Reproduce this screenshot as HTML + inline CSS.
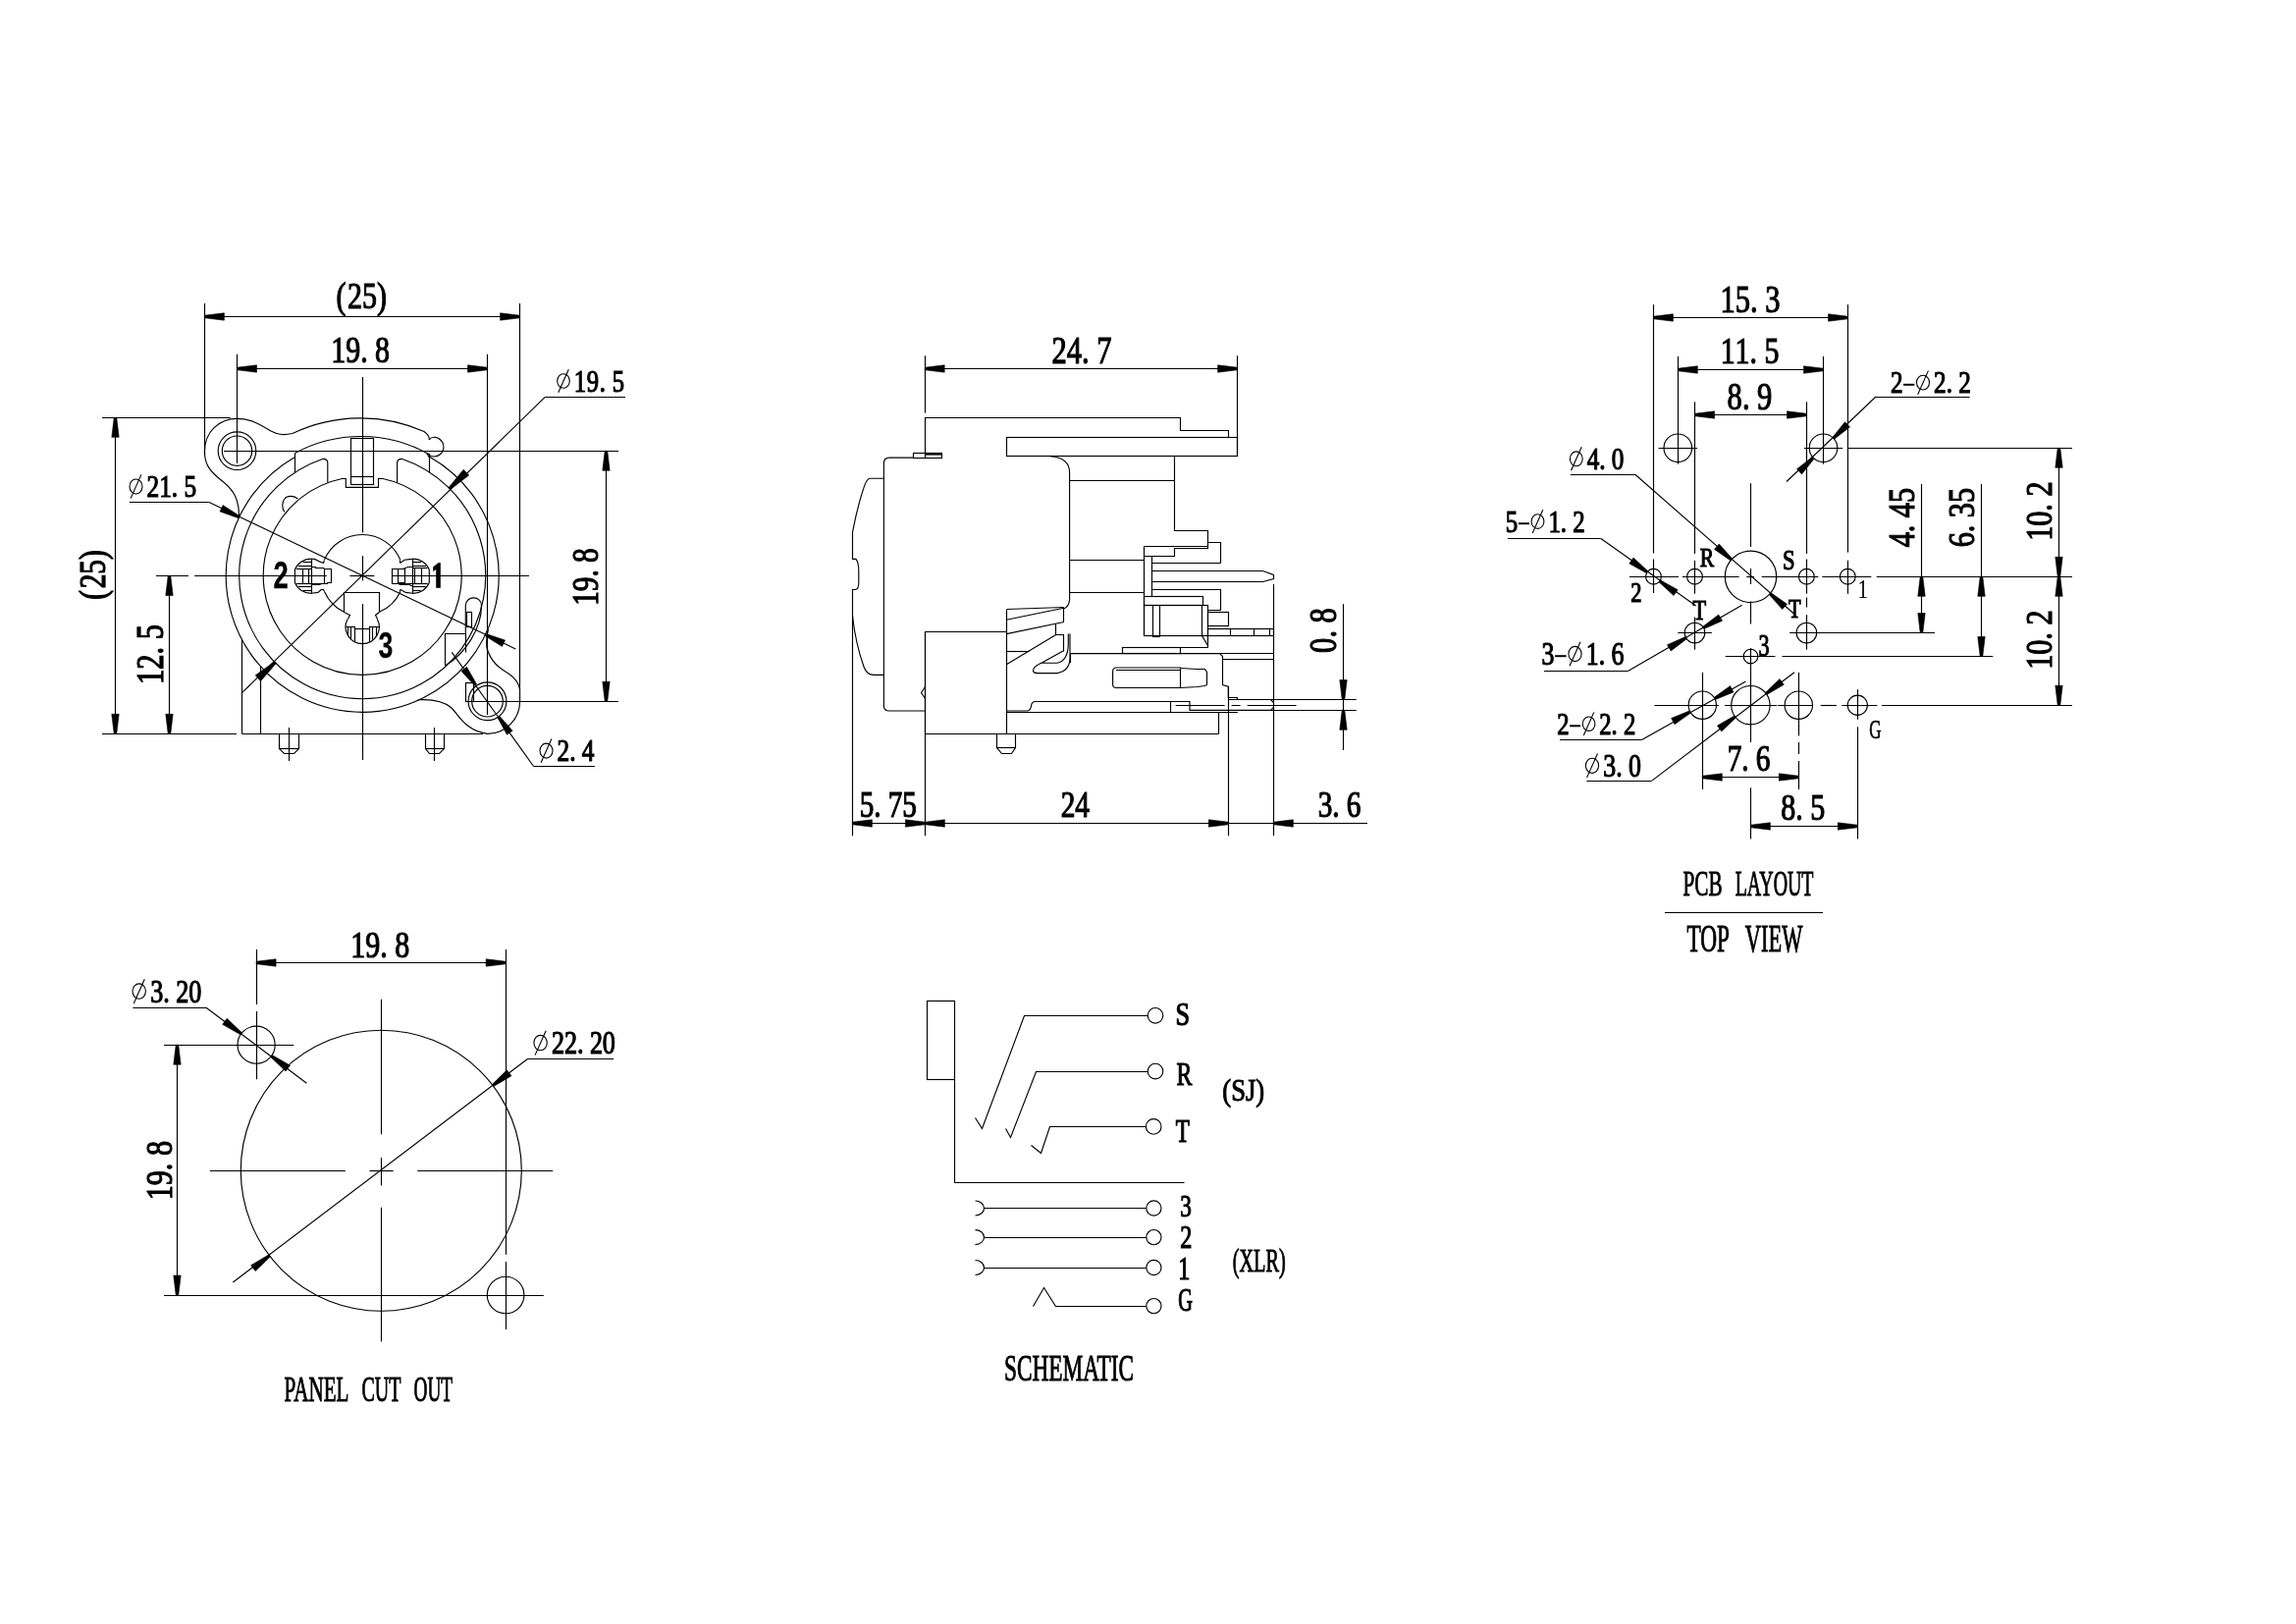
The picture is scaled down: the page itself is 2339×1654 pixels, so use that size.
<!DOCTYPE html>
<html><head><meta charset="utf-8">
<title>XLR combo jack drawing</title>
<style>
html,body{margin:0;padding:0;background:#fff;}
svg{display:block;will-change:transform;}
svg *{fill:none;stroke:#000;stroke-width:1.15;}
svg .f{fill:#000;stroke:#000;stroke-width:0.6;}
svg text{stroke:#000;fill:#000;}
.ts{font-family:"Liberation Serif",serif;}
.tb{font-family:"Liberation Sans",sans-serif;font-weight:bold;}
</style></head><body>
<svg width="2339" height="1654" viewBox="0 0 2339 1654">
<line x1="208.5" y1="309" x2="208.5" y2="463.7"/>
<line x1="529.5" y1="309" x2="529.5" y2="702"/>
<line x1="208.4" y1="322.5" x2="529.6" y2="322.5"/>
<polygon class="f" points="208.4,321.2 228.4,318.8 228.4,326.2 208.4,323.8"/>
<polygon class="f" points="529.6,323.8 509.6,326.2 509.6,318.8 529.6,321.2"/>
<g transform="translate(343.1,314)"><text class="ts" text-anchor="middle" transform="translate(4.3,0) scale(0.78,1)" font-size="38.3" style="stroke-width:1.2">(</text><text class="ts" text-anchor="middle" transform="translate(18.4,0) scale(0.78,1)" font-size="38.3" style="stroke-width:1.2">2</text><text class="ts" text-anchor="middle" transform="translate(33.3,0) scale(0.78,1)" font-size="38.3" style="stroke-width:1.2">5</text><text class="ts" text-anchor="middle" transform="translate(45.9,0) scale(0.78,1)" font-size="38.3" style="stroke-width:1.2">)</text></g>
<line x1="241.5" y1="360.8" x2="241.5" y2="472"/>
<line x1="496.5" y1="360.8" x2="496.5" y2="728"/>
<line x1="241.5" y1="375.5" x2="496.5" y2="375.5"/>
<polygon class="f" points="241.5,374.2 261.5,371.8 261.5,379.2 241.5,376.8"/>
<polygon class="f" points="496.5,376.8 476.5,379.2 476.5,371.8 496.5,374.2"/>
<g transform="translate(338.6,368.5)"><text class="ts" text-anchor="middle" transform="translate(6.1,0) scale(0.78,1)" font-size="38.3" style="stroke-width:1.2">1</text><text class="ts" text-anchor="middle" transform="translate(21,0) scale(0.78,1)" font-size="38.3" style="stroke-width:1.2">9</text><text class="ts" text-anchor="middle" transform="translate(32.3,0) scale(0.78,1)" font-size="38.3" style="stroke-width:1.2">.</text><text class="ts" text-anchor="middle" transform="translate(50.9,0) scale(0.78,1)" font-size="38.3" style="stroke-width:1.2">8</text></g>
<line x1="369.5" y1="384" x2="369.5" y2="542.5"/>
<line x1="369.5" y1="566" x2="369.5" y2="591.4"/>
<line x1="369.5" y1="615" x2="369.5" y2="774"/>
<line x1="104" y1="425.5" x2="234.7" y2="425.5"/>
<line x1="104" y1="747.5" x2="241" y2="747.5"/>
<line x1="117.5" y1="425.3" x2="117.5" y2="747.3"/>
<polygon class="f" points="118.8,425.3 121.2,445.3 113.8,445.3 116.2,425.3"/>
<polygon class="f" points="116.2,747.3 113.8,727.3 121.2,727.3 118.8,747.3"/>
<g transform="translate(107.4,610) rotate(-90)"><text class="ts" text-anchor="middle" transform="translate(4.2,0) scale(0.78,1)" font-size="37.6" style="stroke-width:1.2">(</text><text class="ts" text-anchor="middle" transform="translate(18,0) scale(0.78,1)" font-size="37.6" style="stroke-width:1.2">2</text><text class="ts" text-anchor="middle" transform="translate(32.6,0) scale(0.78,1)" font-size="37.6" style="stroke-width:1.2">5</text><text class="ts" text-anchor="middle" transform="translate(45,0) scale(0.78,1)" font-size="37.6" style="stroke-width:1.2">)</text></g>
<line x1="159" y1="586.5" x2="192" y2="586.5"/>
<line x1="198.2" y1="586.5" x2="332.8" y2="586.5"/>
<line x1="356.4" y1="586.5" x2="381.4" y2="586.5"/>
<line x1="399.3" y1="586.5" x2="539" y2="586.5"/>
<line x1="172.5" y1="586.5" x2="172.5" y2="747.3"/>
<polygon class="f" points="173.8,586.5 176.2,606.5 168.8,606.5 171.2,586.5"/>
<polygon class="f" points="171.2,747.3 168.8,727.3 176.2,727.3 173.8,747.3"/>
<g transform="translate(165.8,695.5) rotate(-90)"><text class="ts" text-anchor="middle" transform="translate(6.2,0) scale(0.78,1)" font-size="39.1" style="stroke-width:1.2">1</text><text class="ts" text-anchor="middle" transform="translate(21.4,0) scale(0.78,1)" font-size="39.1" style="stroke-width:1.2">2</text><text class="ts" text-anchor="middle" transform="translate(32.9,0) scale(0.78,1)" font-size="39.1" style="stroke-width:1.2">.</text><text class="ts" text-anchor="middle" transform="translate(51.9,0) scale(0.78,1)" font-size="39.1" style="stroke-width:1.2">5</text></g>
<line x1="228" y1="459.5" x2="630" y2="459.5"/>
<line x1="480.7" y1="714.5" x2="630" y2="714.5"/>
<line x1="617.5" y1="459.3" x2="617.5" y2="714.2"/>
<polygon class="f" points="618.8,459.3 621.2,479.3 613.8,479.3 616.2,459.3"/>
<polygon class="f" points="616.2,714.2 613.8,694.2 621.2,694.2 618.8,714.2"/>
<g transform="translate(609,615.5) rotate(-90)"><text class="ts" text-anchor="middle" transform="translate(6,0) scale(0.78,1)" font-size="37.6" style="stroke-width:1.2">1</text><text class="ts" text-anchor="middle" transform="translate(20.6,0) scale(0.78,1)" font-size="37.6" style="stroke-width:1.2">9</text><text class="ts" text-anchor="middle" transform="translate(31.6,0) scale(0.78,1)" font-size="37.6" style="stroke-width:1.2">.</text><text class="ts" text-anchor="middle" transform="translate(49.9,0) scale(0.78,1)" font-size="37.6" style="stroke-width:1.2">8</text></g>
<g transform="translate(567.3,398.5)"><ellipse cx="6.7" cy="-10.5" rx="6.3" ry="7.2" style="stroke-width:1.1"/><line x1="1.5" y1="1.3" x2="12" y2="-22.3" style="stroke-width:1.1"/><text class="ts" text-anchor="middle" transform="translate(23.6,0) scale(0.78,1)" font-size="31.6" style="stroke-width:1.2">1</text><text class="ts" text-anchor="middle" transform="translate(36.6,0) scale(0.78,1)" font-size="31.6" style="stroke-width:1.2">9</text><text class="ts" text-anchor="middle" transform="translate(46.6,0) scale(0.78,1)" font-size="31.6" style="stroke-width:1.2">.</text><text class="ts" text-anchor="middle" transform="translate(62.7,0) scale(0.78,1)" font-size="31.6" style="stroke-width:1.2">5</text></g>
<line x1="555.5" y1="404.5" x2="637" y2="404.5"/>
<line x1="555.5" y1="404.2" x2="246.4" y2="705.7"/>
<polygon class="f" points="456.7,496.9 472.2,478.3 477.7,484.1 458.5,498.7"/>
<polygon class="f" points="281.4,675.5 265.5,693.7 260.2,687.8 279.8,673.7"/>
<g transform="translate(131.6,506.3)"><ellipse cx="6.9" cy="-10.8" rx="6.5" ry="7.5" style="stroke-width:1.1"/><line x1="1.5" y1="1.3" x2="12.3" y2="-22.9" style="stroke-width:1.1"/><text class="ts" text-anchor="middle" transform="translate(24.3,0) scale(0.78,1)" font-size="32.5" style="stroke-width:1.2">2</text><text class="ts" text-anchor="middle" transform="translate(36.9,0) scale(0.78,1)" font-size="32.5" style="stroke-width:1.2">1</text><text class="ts" text-anchor="middle" transform="translate(46.4,0) scale(0.78,1)" font-size="32.5" style="stroke-width:1.2">.</text><text class="ts" text-anchor="middle" transform="translate(62.2,0) scale(0.78,1)" font-size="32.5" style="stroke-width:1.2">5</text></g>
<line x1="131.8" y1="511.5" x2="212.4" y2="511.5"/>
<line x1="212.4" y1="511.3" x2="525.3" y2="661"/>
<polygon class="f" points="242.9,527.7 224,520.9 227.1,514.6 244.1,525.5"/>
<polygon class="f" points="495.4,645.6 514.5,652 511.5,658.4 494.4,647.8"/>
<line x1="460.3" y1="664.3" x2="543.6" y2="780.5"/>
<line x1="543.6" y1="780.5" x2="606" y2="780.5"/>
<g transform="translate(549.6,775.4)"><ellipse cx="6.9" cy="-10.8" rx="6.5" ry="7.5" style="stroke-width:1.1"/><line x1="1.5" y1="1.3" x2="12.3" y2="-22.9" style="stroke-width:1.1"/><text class="ts" text-anchor="middle" transform="translate(24.3,0) scale(0.78,1)" font-size="32.5" style="stroke-width:1.2">2</text><text class="ts" text-anchor="middle" transform="translate(33.8,0) scale(0.78,1)" font-size="32.5" style="stroke-width:1.2">.</text><text class="ts" text-anchor="middle" transform="translate(49.6,0) scale(0.78,1)" font-size="32.5" style="stroke-width:1.2">4</text></g>
<polygon class="f" points="483.5,698.2 469.9,683.4 475.5,679.3 485.5,696.8"/>
<polygon class="f" points="508.8,729.3 522.2,744.3 516.5,748.3 506.8,730.7"/>
<path d="M 300.1,465.7 A 139,139 0 1 0 437.6,465.3"/>
<path d="M 300.1,461.7 A 141.5,141.5 0 0 1 437.6,463"/>
<path d="M 333.8,491.6 L 333.8,471.5 Q 333.8,467.3 329.2,467.3 A 125.5,125.5 0 1 0 409.2,467.3 Q 404.6,467.3 404.6,471.5 L 404.6,491.6"/>
<path d="M 348.4,487.5 A 101,101 0 1 0 390,487.5 L 385.5,487.5 L 385.5,496.4 L 352.3,496.4 L 352.3,487.5 Z"/>
<line x1="300.5" y1="461.7" x2="300.5" y2="481.5"/>
<line x1="437.5" y1="463" x2="437.5" y2="481.5"/>
<rect x="357.5" y="446.5" width="23" height="47"/>
<line x1="357.7" y1="485.5" x2="380.3" y2="485.5"/>
<path d="M 243.5,525 C 243.5,506 236,497 224,488 C 213,479 208.4,472 208.4,460 C 208.4,440 223,426.3 241.5,426.3 C 256,426.3 266,433 276,439 C 284,443.5 290,443 298,441.5 A 161,161 0 0 1 432,439.5 C 437,443 437.5,446 437.2,448"/>
<path d="M 437.2,448 C 440,444 447,444 451,451 C 454,458 449,465 442,465 C 439,465 437.5,464 437.2,462"/>
<line x1="434.5" y1="461" x2="437.2" y2="465.6"/>
<circle cx="241.5" cy="459.2" r="19.3"/>
<circle cx="241.5" cy="459.2" r="15.2"/>
<path d="M 425.7,712.8 C 440,712 452,714 460,721 C 468,729 474,744 496.5,747.4 A 33,33 0 0 0 529.6,714.2 L 529.6,702 C 528,694 524,690 518,686 C 508,680 500,674 496,660 C 495,652 496,646 497.5,641"/>
<circle cx="496.5" cy="714.2" r="19.4"/>
<circle cx="496.5" cy="714.2" r="15.8"/>
<rect x="474.5" y="695.5" width="8" height="19"/>
<line x1="246.4" y1="747.5" x2="492" y2="747.5"/>
<line x1="246.5" y1="651.5" x2="246.5" y2="747.3"/>
<line x1="265.5" y1="678.7" x2="265.5" y2="747.3"/>
<polyline points="284.5,747.5 284.5,762.5 289.5,767.5 299.5,767.5 304.5,762.5 304.5,747.5"/>
<line x1="284.5" y1="762.5" x2="304.1" y2="762.5"/>
<line x1="294.5" y1="741" x2="294.5" y2="775"/>
<polyline points="433.5,747.5 433.5,762.5 437.5,767.5 447.5,767.5 452.5,762.5 452.5,747.5"/>
<line x1="433" y1="762.5" x2="452.6" y2="762.5"/>
<line x1="442.5" y1="741" x2="442.5" y2="775"/>
<path d="M 303.4,508 C 300,505 293,504 290,508 C 287,512 287,518 290,521.5"/>
<path d="M 474.3,645.4 L 474.3,617 C 474.3,606.5 490.5,606 490.5,617 C 490.5,640 474,666 453.5,678"/>
<rect x="475.5" y="623.5" width="5" height="15"/>
<polyline points="453.5,677.5 453.5,645.5 474.5,645.5 474.5,664.5"/>
<path d="M 330.5,570 A 42,42 0 0 1 407.9,570.4"/>
<path d="M 330.5,602.5 A 42,42 0 0 0 350.4,623.3"/>
<path d="M 386.4,623.3 A 42,42 0 0 0 407.9,602.4"/>
<path d="M 327.6,572.9 L 320.5,569.4 L 317.5,569.2 A 17.5,17.5 0 0 0 300.4,580.3 L 300.4,593.3 A 17.5,17.5 0 0 0 317.5,604.3 L 323.9,603.4 L 327.6,600.3"/>
<polyline points="330.5,570.5 329.5,573.5 327.5,572.5"/>
<polyline points="330.5,602.5 329.5,600.5 327.5,600.5"/>
<line x1="317.5" y1="569.2" x2="317.5" y2="604.3"/>
<line x1="308.5" y1="572.5" x2="317.5" y2="572.5"/>
<line x1="303.7" y1="576.5" x2="317.5" y2="576.5"/>
<line x1="302.1" y1="579.5" x2="317.5" y2="579.5"/>
<line x1="302.1" y1="594.5" x2="317.5" y2="594.5"/>
<line x1="303.9" y1="597.5" x2="317.5" y2="597.5"/>
<line x1="308.6" y1="601.5" x2="317.5" y2="601.5"/>
<line x1="308.5" y1="579.3" x2="308.5" y2="594.2"/>
<line x1="314.5" y1="579.3" x2="314.5" y2="594.2"/>
<polyline points="317.5,577.5 321.5,577.5 321.5,578.5 329.5,578.5 330.5,579.5 337.5,579.5 337.5,593.5 333.5,593.5 333.5,594.5 317.5,594.5"/>
<polyline points="317.5,595.5 325.5,595.5 327.5,594.5"/>
<line x1="330.5" y1="579.4" x2="330.5" y2="594.2"/>
<path d="M 407.8,573.2 L 412.1,570.2 L 417.3,569.6 L 420.4,569.2 A 17.5,17.5 0 0 1 437.3,580.3 L 437.3,593.3 A 17.5,17.5 0 0 1 420.4,604.3 L 413.3,603.4 L 407.8,600.3"/>
<polyline points="407.5,570.5 407.5,573.5"/>
<polyline points="407.5,602.5 407.5,600.5"/>
<line x1="420.5" y1="569.2" x2="420.5" y2="604.3"/>
<line x1="420.4" y1="572.5" x2="429.2" y2="572.5"/>
<line x1="420.4" y1="576.5" x2="434" y2="576.5"/>
<line x1="420.4" y1="578.5" x2="435.4" y2="578.5"/>
<line x1="420.4" y1="594.5" x2="435.6" y2="594.5"/>
<line x1="420.4" y1="597.5" x2="433.8" y2="597.5"/>
<line x1="420.4" y1="601.5" x2="428.6" y2="601.5"/>
<line x1="422.5" y1="578.8" x2="422.5" y2="594.2"/>
<line x1="429.5" y1="578.8" x2="429.5" y2="594.2"/>
<polyline points="420.5,577.5 415.5,577.5 410.5,579.5 399.5,579.5 399.5,594.5 420.5,594.5"/>
<polyline points="410.5,579.5 412.5,579.5 412.5,593.5 405.5,593.5"/>
<line x1="405.5" y1="579.1" x2="405.5" y2="594.5"/>
<polyline points="406.5,595.5 417.5,595.5 418.5,596.5 420.5,596.5"/>
<polyline points="350.5,623.5 350.5,603.5 386.5,603.5 386.5,623.5"/>
<polyline points="350.5,623.5 356.5,626.5 354.5,630.5"/>
<polyline points="386.5,623.5 382.5,626.5 384.5,630.5"/>
<path d="M 354.1,630.5 A 17.1,17.1 0 1 0 384.3,630.5"/>
<line x1="361.5" y1="640.5" x2="376.2" y2="640.5"/>
<line x1="354.5" y1="638.1" x2="354.5" y2="646.5"/>
<line x1="357.5" y1="638.1" x2="357.5" y2="651.2"/>
<line x1="361.5" y1="638.1" x2="361.5" y2="653.8"/>
<line x1="376.5" y1="638.1" x2="376.5" y2="654.1"/>
<line x1="379.5" y1="638.1" x2="379.5" y2="651.8"/>
<line x1="383.5" y1="638.1" x2="383.5" y2="647.7"/>
<line x1="352.1" y1="638.5" x2="361.5" y2="638.5"/>
<line x1="376.2" y1="638.5" x2="386.3" y2="638.5"/>
<g transform="translate(279.6,599.3)"><text class="tb" text-anchor="middle" transform="translate(6.6,0) scale(0.72,1)" font-size="38.1" style="stroke-width:0.3">2</text></g>
<polygon class="f" points="441.5,577.5 446.5,573.5 448.5,573.5 448.5,598.5 444.5,598.5 444.5,579.5 441.5,581.5"/>
<g transform="translate(386.7,670.4)"><text class="tb" text-anchor="middle" transform="translate(6.3,0) scale(0.72,1)" font-size="36.9" style="stroke-width:0.3">3</text></g>
<line x1="942.5" y1="362.3" x2="942.5" y2="420.6"/>
<line x1="1260.5" y1="362.3" x2="1260.5" y2="464.7"/>
<line x1="942.2" y1="375.5" x2="1260.6" y2="375.5"/>
<polygon class="f" points="942.2,374.2 962.2,371.8 962.2,379.2 942.2,376.8"/>
<polygon class="f" points="1260.6,376.8 1240.6,379.2 1240.6,371.8 1260.6,374.2"/>
<g transform="translate(1072.9,369.9)"><text class="ts" text-anchor="middle" transform="translate(6.2,0) scale(0.78,1)" font-size="39.1" style="stroke-width:1.2">2</text><text class="ts" text-anchor="middle" transform="translate(21.4,0) scale(0.78,1)" font-size="39.1" style="stroke-width:1.2">4</text><text class="ts" text-anchor="middle" transform="translate(32.9,0) scale(0.78,1)" font-size="39.1" style="stroke-width:1.2">.</text><text class="ts" text-anchor="middle" transform="translate(51.9,0) scale(0.78,1)" font-size="39.1" style="stroke-width:1.2">7</text></g>
<line x1="868.5" y1="627.2" x2="868.5" y2="851.3"/>
<line x1="942.5" y1="643.2" x2="942.5" y2="851.3"/>
<line x1="1251.5" y1="699.2" x2="1251.5" y2="851.3"/>
<line x1="1297.5" y1="594.9" x2="1297.5" y2="851.3"/>
<line x1="868.4" y1="838.5" x2="1393" y2="838.5"/>
<polygon class="f" points="868.4,837.2 888.4,834.8 888.4,842.2 868.4,839.8"/>
<polygon class="f" points="942.4,839.8 922.4,842.2 922.4,834.8 942.4,837.2"/>
<polygon class="f" points="942.4,837.2 962.4,834.8 962.4,842.2 942.4,839.8"/>
<polygon class="f" points="1251.3,839.8 1231.3,842.2 1231.3,834.8 1251.3,837.2"/>
<polygon class="f" points="1297.4,837.2 1317.4,834.8 1317.4,842.2 1297.4,839.8"/>
<g transform="translate(877,831.8)"><text class="ts" text-anchor="middle" transform="translate(6,0) scale(0.78,1)" font-size="37.3" style="stroke-width:1.2">5</text><text class="ts" text-anchor="middle" transform="translate(16.9,0) scale(0.78,1)" font-size="37.3" style="stroke-width:1.2">.</text><text class="ts" text-anchor="middle" transform="translate(35,0) scale(0.78,1)" font-size="37.3" style="stroke-width:1.2">7</text><text class="ts" text-anchor="middle" transform="translate(49.5,0) scale(0.78,1)" font-size="37.3" style="stroke-width:1.2">5</text></g>
<g transform="translate(1082,832)"><text class="ts" text-anchor="middle" transform="translate(6,0) scale(0.78,1)" font-size="37.6" style="stroke-width:1.2">2</text><text class="ts" text-anchor="middle" transform="translate(20.6,0) scale(0.78,1)" font-size="37.6" style="stroke-width:1.2">4</text></g>
<g transform="translate(1344,832)"><text class="ts" text-anchor="middle" transform="translate(6,0) scale(0.78,1)" font-size="37.6" style="stroke-width:1.2">3</text><text class="ts" text-anchor="middle" transform="translate(17,0) scale(0.78,1)" font-size="37.6" style="stroke-width:1.2">.</text><text class="ts" text-anchor="middle" transform="translate(35.2,0) scale(0.78,1)" font-size="37.6" style="stroke-width:1.2">6</text></g>
<line x1="1251.3" y1="712.5" x2="1381.7" y2="712.5"/>
<line x1="1251.3" y1="723.5" x2="1381.7" y2="723.5"/>
<line x1="1368.5" y1="615.2" x2="1368.5" y2="764"/>
<polygon class="f" points="1367.2,712.5 1364.8,692.5 1372.2,692.5 1369.8,712.5"/>
<polygon class="f" points="1369.8,723.3 1372.2,743.3 1364.8,743.3 1367.2,723.3"/>
<g transform="translate(1361,663.5) rotate(-90)"><text class="ts" text-anchor="middle" transform="translate(6.2,0) scale(0.78,1)" font-size="39.1" style="stroke-width:1.2">0</text><text class="ts" text-anchor="middle" transform="translate(17.7,0) scale(0.78,1)" font-size="39.1" style="stroke-width:1.2">.</text><text class="ts" text-anchor="middle" transform="translate(36.7,0) scale(0.78,1)" font-size="39.1" style="stroke-width:1.2">8</text></g>
<polyline points="942.5,466.5 942.5,425.5 1202.5,425.5 1202.5,438.5 1251.5,438.5 1251.5,445.5"/>
<rect x="1025.5" y="445.5" width="235" height="19"/>
<rect x="930.5" y="461.5" width="29" height="5"/>
<line x1="942.2" y1="462.5" x2="959.7" y2="462.5" style="stroke-width:2.2"/>
<path d="M 900.4,719 L 900.4,471.6 Q 900.4,466.1 906,466.1 L 930.3,466.1"/>
<path d="M 1069.8,464.7 Q 1089.6,466 1089.6,481.3 L 1089.6,610.6 Q 1089,618 1083.7,620"/>
<path d="M 900.4,487.2 L 886,487.2 Q 882.5,488 879.6,497.9 Q 873.2,517 868.5,542.2 L 868.5,569.3 L 871.8,569.3 Q 874.8,572 874.8,582 L 874.8,593 Q 874.8,600 871.8,600.5 L 868.5,600.5 L 868.5,627.2 Q 871.5,655 880,679 Q 883,687.3 890,687.3 L 900.4,687.3"/>
<path d="M 900.4,719 Q 900.4,724 906,724 L 942.4,724"/>
<line x1="942.4" y1="643.5" x2="1025.5" y2="643.5"/>
<line x1="942.5" y1="643.5" x2="942.5" y2="747.3"/>
<line x1="1025.5" y1="620.8" x2="1025.5" y2="747.3"/>
<line x1="942.4" y1="747.5" x2="1241.7" y2="747.5"/>
<polyline points="942.5,699.5 938.5,705.5 942.5,711.5"/>
<polyline points="1015.5,747.5 1015.5,761.5 1020.5,767.5 1030.5,767.5 1034.5,761.5 1034.5,747.5"/>
<line x1="1015.7" y1="761.5" x2="1034.4" y2="761.5"/>
<polyline points="1025.5,620.5 1083.5,618.5"/>
<line x1="1025.3" y1="631.3" x2="1083.7" y2="619.2"/>
<line x1="1025.3" y1="645.6" x2="1083.7" y2="633.5"/>
<line x1="1083.5" y1="618.5" x2="1083.5" y2="633.5"/>
<polyline points="1075.5,635.5 1075.5,646.5 1083.5,646.5 1083.5,663.5"/>
<line x1="1025.3" y1="676.8" x2="1075.7" y2="646.4"/>
<line x1="1025.3" y1="663.5" x2="1048.5" y2="663.5"/>
<path d="M 1083,663 L 1061,675.2 L 1077,675.2 Q 1088,673 1088.3,656 L 1088.3,645.5"/>
<path d="M 1061,675.2 Q 1052,679 1052.5,683.5 Q 1053,685.6 1058,685.6 L 1077,685.6 Q 1090,683 1090,670 L 1090,645.5"/>
<path d="M 1025.3,724 L 1046,724 Q 1050,724 1050.5,719 Q 1051,714.5 1055,714.5 L 1212,714.5 L 1212,723.3 L 1294.5,723.3 L 1297.4,720.5"/>
<line x1="1025.3" y1="725.5" x2="1260.9" y2="725.5"/>
<line x1="1192.5" y1="714.5" x2="1192.5" y2="725.7"/>
<line x1="1294.5" y1="712.5" x2="1297.4" y2="715.5"/>
<line x1="1197.6" y1="718.5" x2="1321" y2="718.5" stroke-dasharray="50,7,9,7"/>
<line x1="1241.5" y1="725.7" x2="1241.5" y2="747.3"/>
<line x1="1090.5" y1="665.6" x2="1090.5" y2="675.2"/>
<path d="M 1090.9,665.6 L 1242.5,665.6 L 1245.5,668.5 L 1245.5,697.5 L 1251.3,699.2 L 1251.3,710.5 L 1260.5,710.5 L 1260.5,712.5"/>
<line x1="1245.7" y1="671.5" x2="1297.4" y2="671.5"/>
<line x1="1240.9" y1="665.5" x2="1297.4" y2="665.5"/>
<rect x="1143.5" y="659.5" width="59" height="6"/>
<line x1="1143.2" y1="659.5" x2="1230.6" y2="659.5"/>
<path d="M 1202.5,680 L 1137,680 Q 1133.6,680 1133.6,684 L 1133.6,697 Q 1133.6,700.5 1137,700.5 L 1202.5,700.5 Z"/>
<line x1="1137" y1="682.5" x2="1202.5" y2="682.5"/>
<polyline points="1202.5,680.5 1219.5,681.5 1227.5,681.5 1229.5,684.5 1229.5,697.5 1227.5,698.5 1219.5,699.5 1202.5,700.5"/>
<line x1="1089.7" y1="489.5" x2="1196.3" y2="489.5"/>
<polyline points="1196.5,464.5 1196.5,540.5 1230.5,540.5 1230.5,558.5 1196.5,558.5 1196.5,566.5 1165.5,566.5"/>
<line x1="1165.3" y1="556.5" x2="1230.6" y2="556.5"/>
<polyline points="1230.5,552.5 1243.5,552.5 1243.5,573.5"/>
<line x1="1165.5" y1="556.5" x2="1165.5" y2="647.6"/>
<line x1="1173.5" y1="566.3" x2="1173.5" y2="607.2"/>
<line x1="1089.6" y1="570.5" x2="1165.3" y2="570.5"/>
<line x1="1089.6" y1="603.5" x2="1165.3" y2="603.5"/>
<line x1="1173.4" y1="573.5" x2="1243.6" y2="573.5"/>
<polyline points="1173.5,581.5 1286.5,581.5 1297.5,585.5 1297.5,589.5 1286.5,592.5 1173.5,592.5"/>
<polyline points="1173.5,600.5 1243.5,600.5 1243.5,621.5 1230.5,621.5"/>
<rect x="1165.5" y="607.5" width="60" height="9"/>
<rect x="1165.5" y="616.5" width="65" height="31"/>
<line x1="1174.5" y1="616.1" x2="1174.5" y2="648.5"/>
<line x1="1181.5" y1="616.1" x2="1181.5" y2="648.5"/>
<line x1="1174.1" y1="648.5" x2="1181.5" y2="648.5"/>
<polyline points="1224.5,616.5 1224.5,647.5 1230.5,657.5"/>
<line x1="1230.5" y1="647.6" x2="1230.5" y2="659.4"/>
<rect x="1230.5" y="623.5" width="21" height="14"/>
<rect x="1230.5" y="640.5" width="67" height="7"/>
<line x1="1253.5" y1="640.4" x2="1253.5" y2="647.6"/>
<line x1="1277.5" y1="640.4" x2="1277.5" y2="647.6"/>
<line x1="1293.5" y1="640.4" x2="1293.5" y2="647.6"/>
<g transform="translate(1754,318.2)"><text class="ts" text-anchor="middle" transform="translate(6.2,0) scale(0.78,1)" font-size="39.1" style="stroke-width:1.2">1</text><text class="ts" text-anchor="middle" transform="translate(21.4,0) scale(0.78,1)" font-size="39.1" style="stroke-width:1.2">5</text><text class="ts" text-anchor="middle" transform="translate(32.9,0) scale(0.78,1)" font-size="39.1" style="stroke-width:1.2">.</text><text class="ts" text-anchor="middle" transform="translate(51.9,0) scale(0.78,1)" font-size="39.1" style="stroke-width:1.2">3</text></g>
<line x1="1684.4" y1="323.5" x2="1882.5" y2="323.5"/>
<polygon class="f" points="1684.4,322.2 1704.4,319.8 1704.4,327.2 1684.4,324.8"/>
<polygon class="f" points="1882.5,324.8 1862.5,327.2 1862.5,319.8 1882.5,322.2"/>
<g transform="translate(1754,370)"><text class="ts" text-anchor="middle" transform="translate(6.1,0) scale(0.78,1)" font-size="38.3" style="stroke-width:1.2">1</text><text class="ts" text-anchor="middle" transform="translate(21,0) scale(0.78,1)" font-size="38.3" style="stroke-width:1.2">1</text><text class="ts" text-anchor="middle" transform="translate(32.3,0) scale(0.78,1)" font-size="38.3" style="stroke-width:1.2">.</text><text class="ts" text-anchor="middle" transform="translate(50.9,0) scale(0.78,1)" font-size="38.3" style="stroke-width:1.2">5</text></g>
<line x1="1709.3" y1="376.5" x2="1857.5" y2="376.5"/>
<polygon class="f" points="1709.3,375.2 1729.3,372.8 1729.3,380.2 1709.3,377.8"/>
<polygon class="f" points="1857.5,377.8 1837.5,380.2 1837.5,372.8 1857.5,375.2"/>
<g transform="translate(1761,417.3)"><text class="ts" text-anchor="middle" transform="translate(6.2,0) scale(0.78,1)" font-size="39.1" style="stroke-width:1.2">8</text><text class="ts" text-anchor="middle" transform="translate(17.7,0) scale(0.78,1)" font-size="39.1" style="stroke-width:1.2">.</text><text class="ts" text-anchor="middle" transform="translate(36.7,0) scale(0.78,1)" font-size="39.1" style="stroke-width:1.2">9</text></g>
<line x1="1726.6" y1="422.5" x2="1840.5" y2="422.5"/>
<polygon class="f" points="1726.6,421.2 1746.6,418.8 1746.6,426.2 1726.6,423.8"/>
<polygon class="f" points="1840.5,423.8 1820.5,426.2 1820.5,418.8 1840.5,421.2"/>
<line x1="1684.5" y1="310.2" x2="1684.5" y2="563.5"/>
<line x1="1684.5" y1="569.5" x2="1684.5" y2="604"/>
<line x1="1709.5" y1="362.9" x2="1709.5" y2="472.7"/>
<line x1="1726.5" y1="409.3" x2="1726.5" y2="563.9"/>
<line x1="1726.5" y1="570.8" x2="1726.5" y2="604.7"/>
<line x1="1726.5" y1="628.5" x2="1726.5" y2="661.6"/>
<line x1="1857.5" y1="362.9" x2="1857.5" y2="472.7"/>
<line x1="1840.5" y1="409.3" x2="1840.5" y2="563.9"/>
<line x1="1840.5" y1="569.5" x2="1840.5" y2="604.7"/>
<line x1="1840.5" y1="608.5" x2="1840.5" y2="618.5"/>
<line x1="1840.5" y1="626.2" x2="1840.5" y2="661.6"/>
<line x1="1882.5" y1="310.2" x2="1882.5" y2="562.6"/>
<line x1="1882.5" y1="570.7" x2="1882.5" y2="604.8"/>
<circle cx="1709.3" cy="456.3" r="14.3"/>
<line x1="1689.6" y1="456.5" x2="1729" y2="456.5"/>
<circle cx="1857.5" cy="456.3" r="14.3"/>
<line x1="1837.9" y1="456.5" x2="1877.1" y2="456.5"/>
<g transform="translate(1927,400.4)"><text class="ts" text-anchor="middle" transform="translate(5.2,0) scale(0.78,1)" font-size="32.3" style="stroke-width:1.2">2</text><line x1="12.1" y1="-8.6" x2="23.3" y2="-8.6" style="stroke-width:2"/><ellipse cx="32" cy="-10.8" rx="6.5" ry="7.4" style="stroke-width:1.1"/><line x1="26.7" y1="1.3" x2="37.4" y2="-22.8" style="stroke-width:1.1"/><text class="ts" text-anchor="middle" transform="translate(49.3,0) scale(0.78,1)" font-size="32.3" style="stroke-width:1.2">2</text><text class="ts" text-anchor="middle" transform="translate(58.8,0) scale(0.78,1)" font-size="32.3" style="stroke-width:1.2">.</text><text class="ts" text-anchor="middle" transform="translate(74.5,0) scale(0.78,1)" font-size="32.3" style="stroke-width:1.2">2</text></g>
<line x1="1911" y1="404.5" x2="2006.6" y2="404.5"/>
<line x1="1911" y1="404" x2="1820" y2="490.5"/>
<polygon class="f" points="1866.9,445.4 1879.5,429.7 1884.5,434.9 1868.6,447.2"/>
<polygon class="f" points="1848.1,467.2 1835.5,482.9 1830.5,477.7 1846.4,465.4"/>
<line x1="1882.5" y1="456.5" x2="2111" y2="456.5"/>
<line x1="2097.5" y1="456.3" x2="2097.5" y2="718.2"/>
<polygon class="f" points="2098.8,456.3 2101.2,476.3 2093.8,476.3 2096.2,456.3"/>
<polygon class="f" points="2096.2,587.3 2093.8,567.3 2101.2,567.3 2098.8,587.3"/>
<polygon class="f" points="2098.8,587.3 2101.2,607.3 2093.8,607.3 2096.2,587.3"/>
<polygon class="f" points="2096.2,718.2 2093.8,698.2 2101.2,698.2 2098.8,718.2"/>
<g transform="translate(2090.2,549.5) rotate(-90)"><text class="ts" text-anchor="middle" transform="translate(6.2,0) scale(0.78,1)" font-size="38.8" style="stroke-width:1.2">1</text><text class="ts" text-anchor="middle" transform="translate(21.3,0) scale(0.78,1)" font-size="38.8" style="stroke-width:1.2">0</text><text class="ts" text-anchor="middle" transform="translate(32.6,0) scale(0.78,1)" font-size="38.8" style="stroke-width:1.2">.</text><text class="ts" text-anchor="middle" transform="translate(51.5,0) scale(0.78,1)" font-size="38.8" style="stroke-width:1.2">2</text></g>
<g transform="translate(2090.2,680.5) rotate(-90)"><text class="ts" text-anchor="middle" transform="translate(6.2,0) scale(0.78,1)" font-size="38.8" style="stroke-width:1.2">1</text><text class="ts" text-anchor="middle" transform="translate(21.3,0) scale(0.78,1)" font-size="38.8" style="stroke-width:1.2">0</text><text class="ts" text-anchor="middle" transform="translate(32.6,0) scale(0.78,1)" font-size="38.8" style="stroke-width:1.2">.</text><text class="ts" text-anchor="middle" transform="translate(51.5,0) scale(0.78,1)" font-size="38.8" style="stroke-width:1.2">2</text></g>
<line x1="1660" y1="587.5" x2="1710" y2="587.5"/>
<line x1="1713.9" y1="587.5" x2="1771.6" y2="587.5"/>
<line x1="1779.3" y1="587.5" x2="1787" y2="587.5"/>
<line x1="1794.7" y1="587.5" x2="1852.4" y2="587.5"/>
<line x1="1856.3" y1="587.5" x2="1906.3" y2="587.5"/>
<line x1="1911.7" y1="587.5" x2="2111" y2="587.5"/>
<line x1="1957.5" y1="493" x2="1957.5" y2="644.5"/>
<polygon class="f" points="1958.8,587.3 1961.2,607.3 1953.8,607.3 1956.2,587.3"/>
<polygon class="f" points="1956.2,644.5 1953.8,624.5 1961.2,624.5 1958.8,644.5"/>
<line x1="2018.5" y1="493" x2="2018.5" y2="668.5"/>
<polygon class="f" points="2019.8,587.3 2022.2,607.3 2014.8,607.3 2017.2,587.3"/>
<polygon class="f" points="2017.2,668.5 2014.8,648.5 2022.2,648.5 2019.8,668.5"/>
<g transform="translate(1950.3,556) rotate(-90)"><text class="ts" text-anchor="middle" transform="translate(6.2,0) scale(0.78,1)" font-size="38.8" style="stroke-width:1.2">4</text><text class="ts" text-anchor="middle" transform="translate(17.5,0) scale(0.78,1)" font-size="38.8" style="stroke-width:1.2">.</text><text class="ts" text-anchor="middle" transform="translate(36.4,0) scale(0.78,1)" font-size="38.8" style="stroke-width:1.2">4</text><text class="ts" text-anchor="middle" transform="translate(51.5,0) scale(0.78,1)" font-size="38.8" style="stroke-width:1.2">5</text></g>
<g transform="translate(2011,556) rotate(-90)"><text class="ts" text-anchor="middle" transform="translate(6.2,0) scale(0.78,1)" font-size="38.8" style="stroke-width:1.2">6</text><text class="ts" text-anchor="middle" transform="translate(17.5,0) scale(0.78,1)" font-size="38.8" style="stroke-width:1.2">.</text><text class="ts" text-anchor="middle" transform="translate(36.4,0) scale(0.78,1)" font-size="38.8" style="stroke-width:1.2">3</text><text class="ts" text-anchor="middle" transform="translate(51.5,0) scale(0.78,1)" font-size="38.8" style="stroke-width:1.2">5</text></g>
<line x1="1709.3" y1="644.5" x2="1743.9" y2="644.5"/>
<line x1="1823.2" y1="644.5" x2="1971" y2="644.5"/>
<line x1="1757.7" y1="668.5" x2="1808.5" y2="668.5"/>
<line x1="1815.5" y1="668.5" x2="2030.3" y2="668.5"/>
<circle cx="1783.5" cy="587.3" r="26.2"/>
<line x1="1783.5" y1="492.3" x2="1783.5" y2="557"/>
<line x1="1783.5" y1="579" x2="1783.5" y2="595"/>
<line x1="1783.5" y1="612.4" x2="1783.5" y2="635.5"/>
<line x1="1783.5" y1="660" x2="1783.5" y2="756"/>
<line x1="1783.5" y1="802.3" x2="1783.5" y2="854.5"/>
<circle cx="1684.5" cy="587.3" r="7.9"/>
<circle cx="1726.5" cy="587.3" r="7.9"/>
<circle cx="1840.4" cy="587.3" r="7.9"/>
<circle cx="1882.3" cy="587.3" r="7.9"/>
<circle cx="1726.5" cy="644.5" r="10.3"/>
<circle cx="1840.4" cy="644.5" r="10.3"/>
<circle cx="1783.5" cy="668.5" r="7.3"/>
<line x1="1685.4" y1="718.5" x2="1751" y2="718.5"/>
<line x1="1757" y1="718.5" x2="1810" y2="718.5"/>
<line x1="1810.8" y1="718.5" x2="1847" y2="718.5"/>
<line x1="1854.7" y1="718.5" x2="1870.9" y2="718.5"/>
<line x1="1876.3" y1="718.5" x2="1912.4" y2="718.5"/>
<line x1="1917" y1="718.5" x2="2111" y2="718.5"/>
<circle cx="1734.3" cy="718.2" r="14.2"/>
<circle cx="1783.4" cy="718.2" r="19.7"/>
<circle cx="1832.3" cy="718.2" r="14.2"/>
<circle cx="1892.3" cy="718.2" r="10.1"/>
<line x1="1734.5" y1="684.8" x2="1734.5" y2="804"/>
<line x1="1832.5" y1="684.8" x2="1832.5" y2="749.4"/>
<line x1="1832.5" y1="756" x2="1832.5" y2="768"/>
<line x1="1832.5" y1="775" x2="1832.5" y2="804"/>
<line x1="1892.5" y1="702.2" x2="1892.5" y2="732.8"/>
<line x1="1892.5" y1="740.3" x2="1892.5" y2="854.5"/>
<g transform="translate(1734.6,577.1)"><text class="ts" text-anchor="middle" transform="translate(4.4,0) scale(0.78,1)" font-size="27.7" style="stroke-width:1.2">R</text></g>
<g transform="translate(1817.8,580.3)"><text class="ts" text-anchor="middle" transform="translate(4.6,0) scale(0.78,1)" font-size="29" style="stroke-width:1.2">S</text></g>
<g transform="translate(1662.4,613.2)"><text class="ts" text-anchor="middle" transform="translate(4.6,0) scale(0.78,1)" font-size="28.9" style="stroke-width:1.2">2</text></g>
<g transform="translate(1893.5,608.5)"><text class="ts" text-anchor="middle" transform="translate(4.3,0) scale(0.78,1)" font-size="26.8" style="stroke-width:0.1">1</text></g>
<g transform="translate(1726.5,631)"><text class="ts" text-anchor="middle" transform="translate(4.8,0) scale(0.74,1)" font-size="30.1" style="stroke-width:1.2">T</text></g>
<g transform="translate(1823.8,628.5)"><text class="ts" text-anchor="middle" transform="translate(4.4,0) scale(0.74,1)" font-size="27.8" style="stroke-width:1.2">T</text></g>
<g transform="translate(1792,668)"><text class="ts" text-anchor="middle" transform="translate(5,0) scale(0.7,1)" font-size="31.6" style="stroke-width:1.2">3</text></g>
<g transform="translate(1906,751.9)"><text class="ts" text-anchor="middle" transform="translate(4.4,0) scale(0.62,1)" font-size="27.4" style="stroke-width:0.7">G</text></g>
<g transform="translate(1599,478)"><ellipse cx="6.8" cy="-10.7" rx="6.4" ry="7.4" style="stroke-width:1.1"/><line x1="1.5" y1="1.3" x2="12.2" y2="-22.7" style="stroke-width:1.1"/><text class="ts" text-anchor="middle" transform="translate(24.1,0) scale(0.78,1)" font-size="32.2" style="stroke-width:1.2">4</text><text class="ts" text-anchor="middle" transform="translate(33.5,0) scale(0.78,1)" font-size="32.2" style="stroke-width:1.2">.</text><text class="ts" text-anchor="middle" transform="translate(49.1,0) scale(0.78,1)" font-size="32.2" style="stroke-width:1.2">0</text></g>
<line x1="1599.8" y1="483.5" x2="1665.5" y2="483.5"/>
<line x1="1665.5" y1="483" x2="1828.9" y2="626.2"/>
<polygon class="f" points="1763,570.9 1746.5,559.4 1751.3,554 1764.7,569"/>
<polygon class="f" points="1804,603.7 1820.5,615.2 1815.7,620.6 1802.3,605.6"/>
<g transform="translate(1534.9,541.7)"><text class="ts" text-anchor="middle" transform="translate(5.1,0) scale(0.78,1)" font-size="31.9" style="stroke-width:1.2">5</text><line x1="12" y1="-8.5" x2="23" y2="-8.5" style="stroke-width:2"/><ellipse cx="31.6" cy="-10.6" rx="6.4" ry="7.3" style="stroke-width:1.1"/><line x1="26.3" y1="1.3" x2="36.9" y2="-22.5" style="stroke-width:1.1"/><text class="ts" text-anchor="middle" transform="translate(48.7,0) scale(0.78,1)" font-size="31.9" style="stroke-width:1.2">1</text><text class="ts" text-anchor="middle" transform="translate(58,0) scale(0.78,1)" font-size="31.9" style="stroke-width:1.2">.</text><text class="ts" text-anchor="middle" transform="translate(73.5,0) scale(0.78,1)" font-size="31.9" style="stroke-width:1.2">2</text></g>
<line x1="1535.9" y1="548.5" x2="1630.5" y2="548.5"/>
<line x1="1630.5" y1="548.2" x2="1727.7" y2="617"/>
<polygon class="f" points="1677.4,583.7 1659.8,573.9 1664,568 1678.8,581.7"/>
<polygon class="f" points="1691.6,590.9 1709.2,600.7 1705,606.6 1690.2,592.9"/>
<g transform="translate(1571.7,677)"><text class="ts" text-anchor="middle" transform="translate(5.3,0) scale(0.78,1)" font-size="33.1" style="stroke-width:1.2">3</text><line x1="12.4" y1="-8.8" x2="23.9" y2="-8.8" style="stroke-width:2"/><ellipse cx="32.8" cy="-11" rx="6.6" ry="7.6" style="stroke-width:1.1"/><line x1="27.3" y1="1.3" x2="38.3" y2="-23.3" style="stroke-width:1.1"/><text class="ts" text-anchor="middle" transform="translate(50.5,0) scale(0.78,1)" font-size="33.1" style="stroke-width:1.2">1</text><text class="ts" text-anchor="middle" transform="translate(60.2,0) scale(0.78,1)" font-size="33.1" style="stroke-width:1.2">.</text><text class="ts" text-anchor="middle" transform="translate(76.2,0) scale(0.78,1)" font-size="33.1" style="stroke-width:1.2">6</text></g>
<line x1="1573" y1="683.5" x2="1658.8" y2="683.5"/>
<line x1="1658.8" y1="683.3" x2="1774.7" y2="616.2"/>
<polygon class="f" points="1734.7,638.2 1750.8,626.1 1754.5,632.3 1736,640.4"/>
<polygon class="f" points="1718.3,650.8 1702.2,662.9 1698.5,656.7 1717,648.6"/>
<g transform="translate(1587.3,747.7)"><text class="ts" text-anchor="middle" transform="translate(5,0) scale(0.78,1)" font-size="31.6" style="stroke-width:1.2">2</text><line x1="11.9" y1="-8.4" x2="22.8" y2="-8.4" style="stroke-width:2"/><ellipse cx="31.3" cy="-10.5" rx="6.3" ry="7.2" style="stroke-width:1.1"/><line x1="26" y1="1.3" x2="36.5" y2="-22.3" style="stroke-width:1.1"/><text class="ts" text-anchor="middle" transform="translate(48.2,0) scale(0.78,1)" font-size="31.6" style="stroke-width:1.2">2</text><text class="ts" text-anchor="middle" transform="translate(57.4,0) scale(0.78,1)" font-size="31.6" style="stroke-width:1.2">.</text><text class="ts" text-anchor="middle" transform="translate(72.8,0) scale(0.78,1)" font-size="31.6" style="stroke-width:1.2">2</text></g>
<line x1="1589" y1="753.5" x2="1672.5" y2="753.5"/>
<line x1="1672.5" y1="753.5" x2="1778.5" y2="694"/>
<polygon class="f" points="1746.2,710.3 1762.6,698.6 1766,704.9 1747.4,712.5"/>
<polygon class="f" points="1722.4,726.1 1706,737.8 1702.6,731.5 1721.2,723.9"/>
<g transform="translate(1615,790.8)"><ellipse cx="7" cy="-11" rx="6.6" ry="7.6" style="stroke-width:1.1"/><line x1="1.5" y1="1.3" x2="12.5" y2="-23.3" style="stroke-width:1.1"/><text class="ts" text-anchor="middle" transform="translate(24.8,0) scale(0.78,1)" font-size="33.1" style="stroke-width:1.2">3</text><text class="ts" text-anchor="middle" transform="translate(34.4,0) scale(0.78,1)" font-size="33.1" style="stroke-width:1.2">.</text><text class="ts" text-anchor="middle" transform="translate(50.5,0) scale(0.78,1)" font-size="33.1" style="stroke-width:1.2">0</text></g>
<line x1="1616.3" y1="795.5" x2="1682.5" y2="795.5"/>
<line x1="1682.5" y1="795.4" x2="1828" y2="684.8"/>
<polygon class="f" points="1798.4,705.4 1813,691.5 1817.3,697.3 1799.9,707.4"/>
<polygon class="f" points="1768.4,731 1753.8,744.9 1749.5,739.1 1766.9,729"/>
<line x1="1734.3" y1="791.5" x2="1832.3" y2="791.5"/>
<polygon class="f" points="1734.3,790.2 1754.3,787.8 1754.3,795.2 1734.3,792.8"/>
<polygon class="f" points="1832.3,792.8 1812.3,795.2 1812.3,787.8 1832.3,790.2"/>
<g transform="translate(1761,785)"><text class="ts" text-anchor="middle" transform="translate(6,0) scale(0.78,1)" font-size="37.6" style="stroke-width:1.2">7</text><text class="ts" text-anchor="middle" transform="translate(17,0) scale(0.78,1)" font-size="37.6" style="stroke-width:1.2">.</text><text class="ts" text-anchor="middle" transform="translate(35.2,0) scale(0.78,1)" font-size="37.6" style="stroke-width:1.2">6</text></g>
<line x1="1783.4" y1="841.5" x2="1892.3" y2="841.5"/>
<polygon class="f" points="1783.4,840.2 1803.4,837.8 1803.4,845.2 1783.4,842.8"/>
<polygon class="f" points="1892.3,842.8 1872.3,845.2 1872.3,837.8 1892.3,840.2"/>
<g transform="translate(1815.7,834.6)"><text class="ts" text-anchor="middle" transform="translate(6.1,0) scale(0.78,1)" font-size="38.5" style="stroke-width:1.2">8</text><text class="ts" text-anchor="middle" transform="translate(17.4,0) scale(0.78,1)" font-size="38.5" style="stroke-width:1.2">.</text><text class="ts" text-anchor="middle" transform="translate(36.1,0) scale(0.78,1)" font-size="38.5" style="stroke-width:1.2">5</text></g>
<text class="ts" x="1714.5" y="912.2" font-size="36.8" textLength="40" lengthAdjust="spacingAndGlyphs" style="stroke-width:1.0">PCB</text>
<text class="ts" x="1767.7" y="912.2" font-size="36.8" textLength="79.8" lengthAdjust="spacingAndGlyphs" style="stroke-width:1.0">LAYOUT</text>
<line x1="1696" y1="929.5" x2="1857" y2="929.5"/>
<text class="ts" x="1718.5" y="968.7" font-size="39.1" textLength="43.5" lengthAdjust="spacingAndGlyphs" style="stroke-width:1.0">TOP</text>
<text class="ts" x="1777.8" y="968.7" font-size="39.1" textLength="58.5" lengthAdjust="spacingAndGlyphs" style="stroke-width:1.0">VIEW</text>
<line x1="261.5" y1="967" x2="261.5" y2="1023"/>
<line x1="261.5" y1="1030" x2="261.5" y2="1099.3"/>
<line x1="515.5" y1="967" x2="515.5" y2="1277.7"/>
<line x1="515.5" y1="1285" x2="515.5" y2="1354"/>
<line x1="261.1" y1="980.5" x2="515.1" y2="980.5"/>
<polygon class="f" points="261.1,979.2 281.1,976.8 281.1,984.2 261.1,981.8"/>
<polygon class="f" points="515.1,981.8 495.1,984.2 495.1,976.8 515.1,979.2"/>
<g transform="translate(358.6,974.6)"><text class="ts" text-anchor="middle" transform="translate(6.1,0) scale(0.78,1)" font-size="38.5" style="stroke-width:1.2">1</text><text class="ts" text-anchor="middle" transform="translate(21.1,0) scale(0.78,1)" font-size="38.5" style="stroke-width:1.2">9</text><text class="ts" text-anchor="middle" transform="translate(32.4,0) scale(0.78,1)" font-size="38.5" style="stroke-width:1.2">.</text><text class="ts" text-anchor="middle" transform="translate(51.1,0) scale(0.78,1)" font-size="38.5" style="stroke-width:1.2">8</text></g>
<circle cx="261.1" cy="1064.2" r="19.1"/>
<circle cx="515.1" cy="1319" r="18.8"/>
<line x1="167" y1="1064.5" x2="299.3" y2="1064.5"/>
<line x1="167" y1="1319.5" x2="553.8" y2="1319.5"/>
<g transform="translate(134.6,1020.8)"><ellipse cx="7.1" cy="-11.2" rx="6.7" ry="7.7" style="stroke-width:1.1"/><line x1="1.6" y1="1.3" x2="12.7" y2="-23.6" style="stroke-width:1.1"/><text class="ts" text-anchor="middle" transform="translate(25.1,0) scale(0.78,1)" font-size="33.5" style="stroke-width:1.2">3</text><text class="ts" text-anchor="middle" transform="translate(34.9,0) scale(0.78,1)" font-size="33.5" style="stroke-width:1.2">.</text><text class="ts" text-anchor="middle" transform="translate(51.2,0) scale(0.78,1)" font-size="33.5" style="stroke-width:1.2">2</text><text class="ts" text-anchor="middle" transform="translate(64.2,0) scale(0.78,1)" font-size="33.5" style="stroke-width:1.2">0</text></g>
<line x1="135.4" y1="1026.5" x2="210" y2="1026.5"/>
<line x1="210" y1="1026.2" x2="312.4" y2="1103.2"/>
<polygon class="f" points="245,1053.8 226.7,1043.3 231.2,1037.3 246.5,1051.8"/>
<polygon class="f" points="277.2,1074.6 295.5,1085.1 291,1091.1 275.7,1076.6"/>
<line x1="180.5" y1="1064.2" x2="180.5" y2="1319"/>
<polygon class="f" points="181.8,1064.2 184.2,1084.2 176.8,1084.2 179.2,1064.2"/>
<polygon class="f" points="179.2,1319 176.8,1299 184.2,1299 181.8,1319"/>
<g transform="translate(174.5,1221) rotate(-90)"><text class="ts" text-anchor="middle" transform="translate(6.2,0) scale(0.78,1)" font-size="38.8" style="stroke-width:1.2">1</text><text class="ts" text-anchor="middle" transform="translate(21.3,0) scale(0.78,1)" font-size="38.8" style="stroke-width:1.2">9</text><text class="ts" text-anchor="middle" transform="translate(32.6,0) scale(0.78,1)" font-size="38.8" style="stroke-width:1.2">.</text><text class="ts" text-anchor="middle" transform="translate(51.5,0) scale(0.78,1)" font-size="38.8" style="stroke-width:1.2">8</text></g>
<circle cx="388.3" cy="1192.2" r="143"/>
<line x1="213.9" y1="1192.5" x2="351.8" y2="1192.5"/>
<line x1="376.5" y1="1192.5" x2="400.6" y2="1192.5"/>
<line x1="425.2" y1="1192.5" x2="563.2" y2="1192.5"/>
<line x1="388.5" y1="1017.7" x2="388.5" y2="1155.3"/>
<line x1="388.5" y1="1179" x2="388.5" y2="1207.5"/>
<line x1="388.5" y1="1229.7" x2="388.5" y2="1366.4"/>
<line x1="237.3" y1="1306" x2="537.8" y2="1078.2"/>
<line x1="537.8" y1="1078.5" x2="625.2" y2="1078.5"/>
<polygon class="f" points="501.3,1104.5 516.4,1089.8 521,1095.7 502.8,1106.5"/>
<polygon class="f" points="275.3,1279.9 260.2,1294.6 255.6,1288.7 273.8,1277.9"/>
<g transform="translate(543.5,1073.3)"><ellipse cx="7.1" cy="-11.2" rx="6.7" ry="7.7" style="stroke-width:1.1"/><line x1="1.6" y1="1.3" x2="12.7" y2="-23.6" style="stroke-width:1.1"/><text class="ts" text-anchor="middle" transform="translate(25.1,0) scale(0.78,1)" font-size="33.5" style="stroke-width:1.2">2</text><text class="ts" text-anchor="middle" transform="translate(38,0) scale(0.78,1)" font-size="33.5" style="stroke-width:1.2">2</text><text class="ts" text-anchor="middle" transform="translate(47.7,0) scale(0.78,1)" font-size="33.5" style="stroke-width:1.2">.</text><text class="ts" text-anchor="middle" transform="translate(63.9,0) scale(0.78,1)" font-size="33.5" style="stroke-width:1.2">2</text><text class="ts" text-anchor="middle" transform="translate(76.8,0) scale(0.78,1)" font-size="33.5" style="stroke-width:1.2">0</text></g>
<text class="ts" x="289.5" y="1426.9" font-size="35.5" textLength="66" lengthAdjust="spacingAndGlyphs" style="stroke-width:1.0">PANEL</text>
<text class="ts" x="368.5" y="1426.9" font-size="35.5" textLength="40" lengthAdjust="spacingAndGlyphs" style="stroke-width:1.0">CUT</text>
<text class="ts" x="421.5" y="1426.9" font-size="35.5" textLength="39.5" lengthAdjust="spacingAndGlyphs" style="stroke-width:1.0">OUT</text>
<rect x="944.5" y="1019.5" width="28" height="80"/>
<polyline points="972.5,1099.5 972.5,1204.5 1206.5,1204.5"/>
<polyline points="993.5,1138.5 1000.5,1149.5 1043.5,1034.5 1169.5,1034.5"/>
<polyline points="1024.5,1149.5 1029.5,1158.5 1055.5,1091.5 1169.5,1091.5"/>
<polyline points="1050.5,1166.5 1060.5,1174.5 1069.5,1147.5 1167.5,1147.5"/>
<circle cx="1177" cy="1034.3" r="7.8"/>
<circle cx="1177" cy="1091.1" r="7.8"/>
<circle cx="1175.2" cy="1147.4" r="7.8"/>
<g transform="translate(1199.6,1044.4)"><text class="ts" text-anchor="middle" transform="translate(5.2,0) scale(0.8,1)" font-size="32.8" style="stroke-width:1.2">S</text></g>
<g transform="translate(1201,1104.5)"><text class="ts" text-anchor="middle" transform="translate(5.4,0) scale(0.7,1)" font-size="34" style="stroke-width:1.2">R</text></g>
<g transform="translate(1199.6,1162.9)"><text class="ts" text-anchor="middle" transform="translate(5.3,0) scale(0.7,1)" font-size="32.9" style="stroke-width:1.2">T</text></g>
<text class="ts" x="1245.3" y="1120.5" font-size="31.6" textLength="42.9" lengthAdjust="spacingAndGlyphs" style="stroke-width:1.0">(SJ)</text>
<path d="M 993.5,1223 A 9,7.5 0 0 1 993.5,1238"/>
<line x1="1002.7" y1="1230.5" x2="1167.6" y2="1230.5"/>
<circle cx="1175.4" cy="1230.5" r="7.6"/>
<path d="M 993.5,1252.6 A 9,7.5 0 0 1 993.5,1267.6"/>
<line x1="1002.7" y1="1260.5" x2="1167.6" y2="1260.5"/>
<circle cx="1175.4" cy="1260.1" r="7.6"/>
<path d="M 993.5,1283.5 A 9,7.5 0 0 1 993.5,1298.5"/>
<line x1="1002.7" y1="1291.5" x2="1167.6" y2="1291.5"/>
<circle cx="1175.4" cy="1291" r="7.6"/>
<polyline points="1052.5,1330.5 1063.5,1311.5 1075.5,1330.5 1167.5,1330.5"/>
<circle cx="1175.4" cy="1330.1" r="7.6"/>
<g transform="translate(1203,1239.2)"><text class="ts" text-anchor="middle" transform="translate(5,0) scale(0.74,1)" font-size="31.4" style="stroke-width:1.2">3</text></g>
<g transform="translate(1203,1270.6)"><text class="ts" text-anchor="middle" transform="translate(5.2,0) scale(0.74,1)" font-size="32.8" style="stroke-width:1.2">2</text></g>
<g transform="translate(1201,1302.8)"><text class="ts" text-anchor="middle" transform="translate(5.2,0) scale(0.74,1)" font-size="32.8" style="stroke-width:1.2">1</text></g>
<g transform="translate(1202.5,1335)"><text class="ts" text-anchor="middle" transform="translate(5.2,0) scale(0.62,1)" font-size="32.8" style="stroke-width:1.2">G</text></g>
<text class="ts" x="1255.7" y="1295" font-size="34.1" textLength="54.1" lengthAdjust="spacingAndGlyphs" style="stroke-width:1.0">(XLR)</text>
<text class="ts" x="1023" y="1405.6" font-size="38" textLength="132" lengthAdjust="spacingAndGlyphs" style="stroke-width:1.0">SCHEMATIC</text>
</svg></body></html>
